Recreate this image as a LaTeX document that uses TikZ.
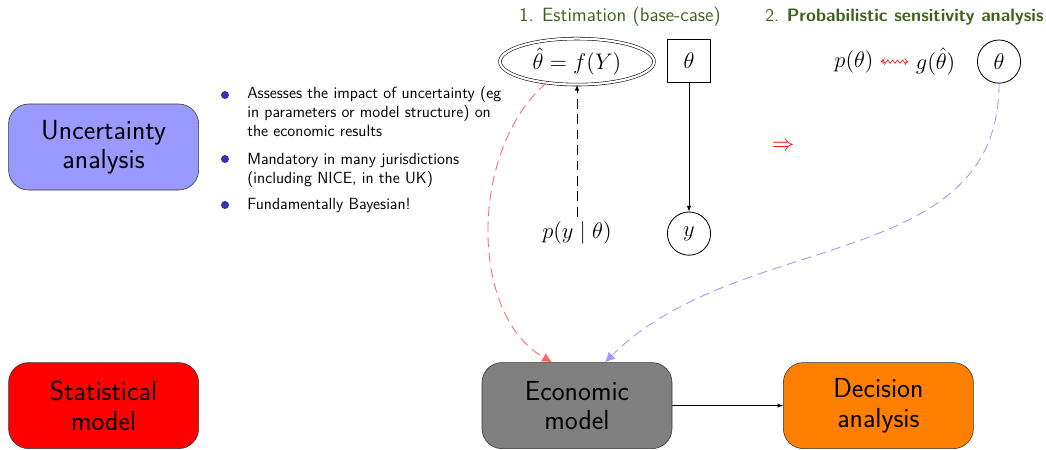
\documentclass[tikz,border=0pt]{standalone}
\usepackage{fix-cm}
\usetikzlibrary{shapes.geometric,decorations.pathmorphing,arrows.meta}
\definecolor{headgreen}{RGB}{61,99,31}
\definecolor{itemblue}{RGB}{51,51,179}
\begin{document}
\begin{tikzpicture}[
    model/.style={draw=black!80, rounded corners=0.5cm, minimum width=4.75cm, minimum height=2.15cm, align=center, font=\sffamily\fontsize{19.6}{21}\selectfont},
    mathlbl/.style={font=\fontsize{16}{19}\selectfont},
    header/.style={text=headgreen, font=\sffamily\fontsize{13.7}{16}\selectfont},
    itemtext/.style={anchor=north west, inner sep=0pt, align=left, font=\sffamily\fontsize{11.5}{13.3}\selectfont},
    itemdot/.style={circle, fill=itemblue, inner sep=0pt, minimum size=0.2cm},
    link/.style={-{Latex[length=7pt,width=7pt]}, dash pattern=on 7pt off 4pt, semithick}
  ]
  \useasboundingbox (0,0) rectangle (26.15,-11.225);
  % models
  \node[model, fill=blue!40] (unc) at (2.59,-3.675) {Uncertainty\\analysis};
  \node[model, fill=red] (stat) at (2.59,-10.14) {Statistical\\model};
  \node[model, fill=gray] (econ) at (14.425,-10.14) {Economic\\model};
  \node[model, fill=orange] (dec) at (21.96,-10.14) {Decision\\analysis};
  \draw[-latex] (econ) -- (dec);
  % bullet list
  \node[itemdot] (d1) at (5.625,-2.375) {};
  \node[itemtext] (i1) at (6.175,-2.16) {Assesses the impact of uncertainty (eg\\in parameters or model structure) on\\the economic results};
  \node[itemdot] (d2) at (5.625,-3.975) {};
  \node[itemtext] (i2) at (6.175,-3.82) {Mandatory in many jurisdictions\\(including NICE, in the UK)};
  \node[itemdot] (d3) at (5.625,-5.125) {};
  \node[itemtext] (i3) at (6.175,-4.96) {Fundamentally Bayesian!};
  % 1. estimation
  \node[header] (h1) at (15.5,-0.425) {1. Estimation (base-case)};
  \node[mathlbl, ellipse, draw, double, double distance=1.6pt, minimum width=3.85cm, minimum height=1.15cm, inner sep=0pt] (est) at (14.425,-1.54) {$\hat\theta = f(Y)$};
  \node[mathlbl, draw, semithick, minimum size=1.07cm] (thb) at (17.225,-1.525) {$\theta$};
  \node[mathlbl, circle, draw, semithick, minimum size=1.08cm] (yc) at (17.225,-5.84) {$y$};
  \node[mathlbl] (lik) at (14.425,-5.825) {$p(y\mid\theta)$};
  \draw[-latex] (thb) -- (yc);
  \draw[-latex, dash pattern=on 7pt off 4pt] (lik) -- (est);
  % 2. PSA
  \node[header, anchor=west, inner sep=0pt, font=\sffamily\fontsize{12.8}{15}\selectfont] (h2) at (19.125,-0.425) {2. \textbf{Probabilistic sensitivity analysis}};
  \node[mathlbl] (pth) at (21.35,-1.54) {$p(\theta)$};
  \node[mathlbl] (gth) at (23.39,-1.54) {$g(\hat\theta)$};
  \node[mathlbl, circle, draw, semithick, minimum size=1.08cm] (th2) at (24.975,-1.54) {$\theta$};
  \draw[red, <->, shorten <=2pt, shorten >=2pt, decorate, decoration={snake, amplitude=1.2pt, segment length=3.5pt, pre length=2pt, post length=2pt}] (pth) -- (gth);
  \node[mathlbl, text=red] (imp) at (19.575,-3.65) {$\Rightarrow$};
  % into the economic model
  \draw[link, red!60] (est.215) to[out=220, in=150, looseness=0.9] ([xshift=-0.625cm]econ.north);
  \draw[link, blue!40] (th2.south) to[out=-90, in=45] ([xshift=0.7cm]econ.north);
\end{tikzpicture}
\end{document}
